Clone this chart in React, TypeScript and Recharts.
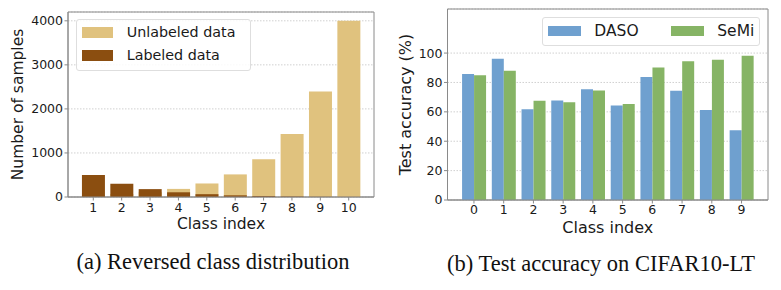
import React from 'react';
import { BarChart, Bar, XAxis, YAxis, CartesianGrid, Legend } from 'recharts';

// ---- (a) Reversed class distribution ----
const classIdxA = ['1', '2', '3', '4', '5', '6', '7', '8', '9', '10'];
const unlabeledA = [40, 66, 110, 184, 307, 513, 858, 1433, 2394, 4000];
const labeledA = [500, 299, 179, 107, 64, 38, 23, 14, 8, 5];
const ticksA = [0, 1000, 2000, 3000, 4000];
const seriesA = ['Unlabeled data', 'Labeled data'];

// ---- (b) Test accuracy on CIFAR10-LT ----
const classIdxB = ['0', '1', '2', '3', '4', '5', '6', '7', '8', '9'];
const dasoB = [85.8, 96.1, 61.8, 67.8, 75.3, 64.4, 83.8, 74.4, 61.2, 47.5];
const semiB = [84.9, 87.9, 67.5, 66.6, 74.6, 65.3, 90.1, 94.5, 95.4, 98.2];
const ticksB = [0, 20, 40, 60, 80, 100];
const seriesB = ['DASO', 'SeMi'];

const dataA = classIdxA.map((c, i) => ({ cls: c, unlabeled: unlabeledA[i], labeled: labeledA[i] }));
const dataB = classIdxB.map((c, i) => ({ cls: c, daso: dasoB[i], semi: semiB[i] }));

const FONT = '"DejaVu Sans", sans-serif';
const FRAME = '#8a8a8a';
const TXT = '#1a1a1a';

const order = (payload: any[], names: string[]) =>
  [...(payload || [])].sort((a, b) => names.indexOf(a.value) - names.indexOf(b.value));

const LegendA = (props: any) => {
  const payload = order(props.payload, seriesA);
  return (
    <div
      style={{
        position: 'relative',
        width: 175,
        height: 52,
        boxSizing: 'border-box',
        border: '1px solid #dedede',
        borderRadius: 3,
        background: 'rgba(255,255,255,0.85)',
        fontFamily: FONT,
      }}
    >
      {payload.map((p: any, i: number) => (
        <div key={i} style={{ position: 'absolute', left: 5.3, top: 7.3 + i * 22.8, height: 11, display: 'flex', alignItems: 'center' }}>
          <span style={{ display: 'inline-block', width: 31, height: 11, background: p.color }} />
          <span style={{ marginLeft: 13.4, fontSize: 14.3, color: TXT, whiteSpace: 'nowrap', lineHeight: '11px' }}>{p.value}</span>
        </div>
      ))}
    </div>
  );
};

const LegendB = (props: any) => {
  const payload = order(props.payload, seriesB);
  return (
    <div
      style={{
        position: 'relative',
        width: 218,
        height: 28.5,
        boxSizing: 'border-box',
        border: '1px solid #dedede',
        borderRadius: 3,
        background: 'rgba(255,255,255,0.85)',
        fontFamily: FONT,
      }}
    >
      {payload.map((p: any, i: number) => (
        <div key={i} style={{ position: 'absolute', left: 5, top: 7.7 + 0, height: 10, display: 'flex', alignItems: 'center', transform: `translateX(${i * 123}px)` }}>
          <span style={{ display: 'inline-block', width: 32.4, height: 10, background: p.color }} />
          <span style={{ marginLeft: 13.6, fontSize: 15.5, color: TXT, whiteSpace: 'nowrap', lineHeight: '10px' }}>{p.value}</span>
        </div>
      ))}
    </div>
  );
};

const tickStyle = { fontSize: 12.5, fill: TXT, fontFamily: FONT };

const frameV = ({ offset }: any) => [offset.left, offset.left + offset.width];
const frameH = ({ offset }: any) => [offset.top, offset.top + offset.height];

export default function App() {
  return (
    <div style={{ position: 'absolute', left: 0, top: 0, width: 781, height: 290, background: '#fff', overflow: 'hidden' }}>
      {/* Chart (a) */}
      <div style={{ position: 'absolute', left: 0, top: 0 }}>
        <BarChart
          width={390}
          height={240}
          data={dataA}
          margin={{ top: 12, right: 16, bottom: 5, left: 0 }}
          barCategoryGap="10%"
          style={{ fontFamily: FONT }}
        >
          <CartesianGrid vertical={false} xAxisId="bottom" yAxisId="l" stroke="#d0d0d0" strokeDasharray="1.5 1.5" />
          <XAxis
            xAxisId="bottom"
            dataKey="cls"
            height={38}
            padding={{ left: 11.1, right: 11.1 }}
            tick={tickStyle}
            tickSize={3.5}
            tickMargin={2.4}
            tickLine={{ stroke: FRAME }}
            axisLine={{ stroke: FRAME }}
            interval={0}
            label={{ value: 'Class index', position: 'insideBottom', offset: 5.9, style: { fontSize: 15.5, fill: TXT, fontFamily: FONT } }}
          />
          <XAxis xAxisId="top" dataKey="cls" orientation="top" hide padding={{ left: 11.1, right: 11.1 }} />
          <YAxis
            yAxisId="l"
            width={68}
            domain={[0, 4200]}
            ticks={ticksA}
            type="number"
            allowDataOverflow
            tick={tickStyle}
            tickSize={3.5}
            tickMargin={1.5}
            tickLine={{ stroke: FRAME }}
            axisLine={{ stroke: FRAME }}
            label={{ value: 'Number of samples', angle: -90, position: 'insideLeft', offset: 17, style: { fontSize: 15.5, fill: TXT, fontFamily: FONT, textAnchor: 'middle' } }}
          />
          <Legend
            layout="vertical"
            verticalAlign="middle"
            align="center"
            content={<LegendA />}
            wrapperStyle={{ left: 76, top: 19, width: 175, height: 52 }}
          />
          <Bar dataKey="unlabeled" name="Unlabeled data" xAxisId="top" yAxisId="l" fill="#e0c27e" isAnimationActive={false} />
          <Bar dataKey="labeled" name="Labeled data" xAxisId="bottom" yAxisId="l" fill="#8b4e10" isAnimationActive={false} />
          <CartesianGrid
            xAxisId="bottom"
            yAxisId="l"
            fill="none"
            stroke={FRAME}
            strokeWidth={1}
            verticalCoordinatesGenerator={frameV}
            horizontalCoordinatesGenerator={frameH}
          />
        </BarChart>
      </div>

      {/* Chart (b) */}
      <div style={{ position: 'absolute', left: 390, top: 0 }}>
        <BarChart
          width={391}
          height={240}
          data={dataB}
          margin={{ top: 9, right: 13, bottom: 5, left: 0 }}
          barCategoryGap="10%"
          barGap={0}
          style={{ fontFamily: FONT }}
        >
          <CartesianGrid vertical={false} xAxisId="b" yAxisId="l" stroke="#d0d0d0" strokeDasharray="1.5 1.5" />
          <XAxis
            xAxisId="b"
            dataKey="cls"
            height={35}
            padding={{ left: 11.6, right: 11.6 }}
            tick={tickStyle}
            tickSize={3.5}
            tickMargin={1.8}
            tickLine={{ stroke: FRAME }}
            axisLine={{ stroke: FRAME }}
            interval={0}
            label={{ value: 'Class index', position: 'insideBottom', offset: 2.5, style: { fontSize: 16, fill: TXT, fontFamily: FONT } }}
          />
          <YAxis
            yAxisId="l"
            width={57.5}
            domain={[0, 130]}
            ticks={ticksB}
            type="number"
            allowDataOverflow
            tick={tickStyle}
            tickSize={3.5}
            tickMargin={1.5}
            tickLine={{ stroke: FRAME }}
            axisLine={{ stroke: FRAME }}
            label={{ value: 'Test accuracy (%)', angle: -90, position: 'insideLeft', offset: 15, style: { fontSize: 16, fill: TXT, fontFamily: FONT, textAnchor: 'middle' } }}
          />
          <Legend
            layout="vertical"
            verticalAlign="middle"
            align="center"
            content={<LegendB />}
            wrapperStyle={{ left: 152.3, top: 17.3, width: 218, height: 29 }}
          />
          <Bar dataKey="daso" name="DASO" xAxisId="b" yAxisId="l" fill="#6fa0cf" isAnimationActive={false} />
          <Bar dataKey="semi" name="SeMi" xAxisId="b" yAxisId="l" fill="#86b465" isAnimationActive={false} />
          <CartesianGrid
            xAxisId="b"
            yAxisId="l"
            fill="none"
            stroke={FRAME}
            strokeWidth={1}
            verticalCoordinatesGenerator={frameV}
            horizontalCoordinatesGenerator={frameH}
          />
        </BarChart>
      </div>

      {/* Captions */}
      <svg width={781} height={290} style={{ position: 'absolute', left: 0, top: 0, pointerEvents: 'none' }}>
        <text x={213} y={268.5} textAnchor="middle" fontFamily='"Liberation Serif", "Times New Roman", serif' fontSize={22.5} fill="#111">
          (a) Reversed class distribution
        </text>
        <text x={601} y={270.5} textAnchor="middle" fontFamily='"Liberation Serif", "Times New Roman", serif' fontSize={22.5} fill="#111">
          (b) Test accuracy on CIFAR10-LT
        </text>
      </svg>
    </div>
  );
}
